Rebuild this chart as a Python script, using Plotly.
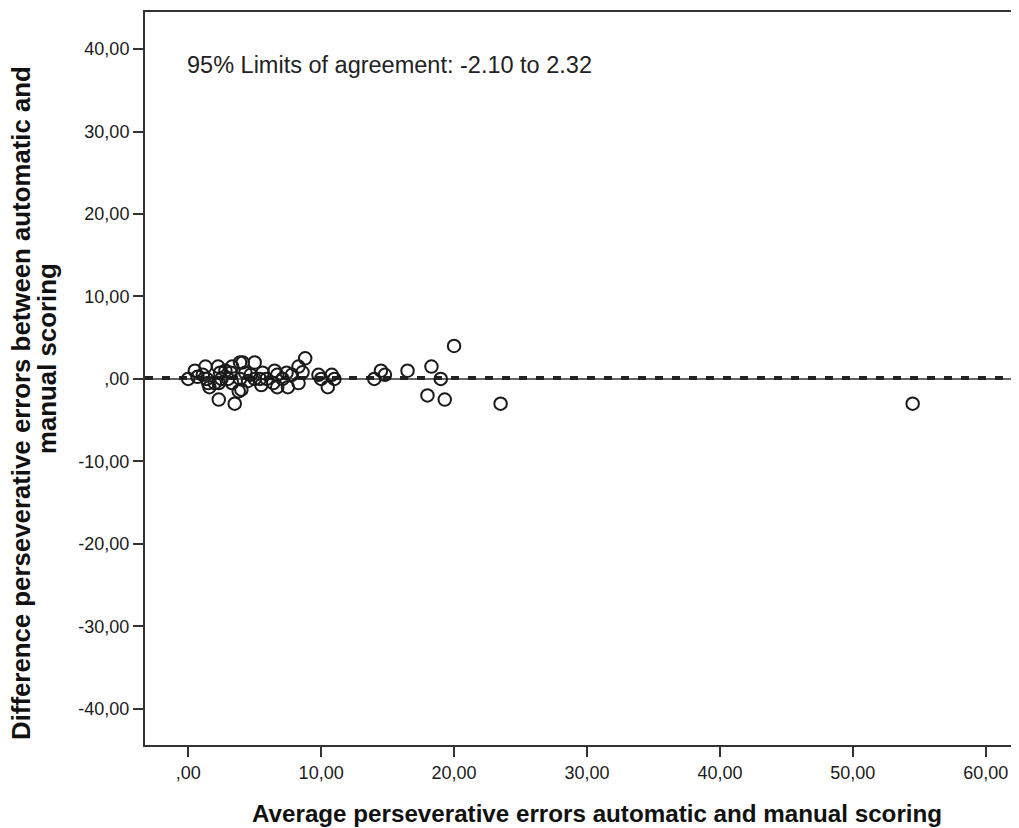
import plotly.graph_objects as go

# Bland-Altman data: average (x) vs difference (y)
avg_scores = [0.0, 0.5, 0.7, 1.1, 1.3, 1.4, 1.5, 1.6, 2.0, 2.25, 2.4, 2.5, 2.3, 2.3,
              2.8, 3.0, 3.2, 3.3, 3.3, 3.5, 3.8, 3.9, 4.1, 3.9, 4.3, 4.5, 4.0, 4.7,
              5.0, 5.0, 5.4, 5.6, 5.5, 5.9, 6.5, 6.7, 6.4, 6.7, 7.1, 7.4, 7.5, 7.8,
              8.3, 8.3, 8.6, 8.8, 9.8, 10.0, 10.5, 10.8, 11.0, 14.0, 14.5, 14.8,
              16.5, 18.0, 18.3, 19.0, 19.3, 20.0, 23.5, 54.5]
diff_scores = [0.0, 1.0, 0.25, 0.5, 1.5, 0.0, -0.5, -1.0, -0.5, 1.5, 0.75, 0.0, -0.5, -2.5,
               1.0, 0.0, 0.75, 1.5, -0.5, -3.0, -1.5, 2.0, 2.0, 0.0, 0.75, -0.25, -1.3, 0.5,
               2.0, 0.0, 0.0, 0.75, -0.75, 0.0, 1.0, 0.5, -0.5, -1.0, 0.0, 0.75, -1.0, 0.5,
               -0.5, 1.5, 0.8, 2.5, 0.5, 0.0, -1.0, 0.5, 0.0, 0.0, 1.0, 0.5,
               1.0, -2.0, 1.5, 0.0, -2.5, 4.0, -3.0, -3.0]
mean_diff = 0.11
zero_ref = 0.0
x_ticks = [0, 10, 20, 30, 40, 50, 60]
x_tick_labels = [",00", "10,00", "20,00", "30,00", "40,00", "50,00", "60,00"]
y_ticks = [-40, -30, -20, -10, 0, 10, 20, 30, 40]
y_tick_labels = ["-40,00", "-30,00", "-20,00", "-10,00", ",00", "10,00", "20,00", "30,00", "40,00"]
loa_text = "95% Limits of agreement: -2.10 to 2.32"
x_title = "Average perseverative errors automatic and manual scoring"
y_title_line1 = "Difference perseverative errors between automatic and"
y_title_line2 = "manual scoring"

font_family = "Liberation Sans, Arial, sans-serif"

fig = go.Figure()
fig.add_trace(go.Scatter(
    x=avg_scores, y=diff_scores, mode="markers",
    marker=dict(symbol="circle-open", size=12.5, color="#1a1a1a", line=dict(width=2, color="#1a1a1a")),
    showlegend=False, hoverinfo="x+y",
))

fig.add_shape(type="line", xref="paper", x0=0, x1=1, yref="y", y0=zero_ref, y1=zero_ref,
              line=dict(color="#333333", width=1.5), layer="below")
fig.add_shape(type="line", xref="paper", x0=0, x1=1, yref="y", y0=mean_diff, y1=mean_diff,
              line=dict(color="#222222", width=4, dash="8px,9px"), layer="below")

fig.add_annotation(xref="paper", yref="paper", x=0.046, y=0.9277, xanchor="left", yanchor="middle",
                   text=loa_text, showarrow=False,
                   font=dict(family=font_family, size=23.5, color="#222222"))

# axis titles
fig.add_annotation(xref="paper", yref="paper", x=0.517, y=-0.0935, xanchor="center", yanchor="middle",
                   text="<b>" + x_title + "</b>", showarrow=False,
                   font=dict(family=font_family, size=24.2, color="#111111"))
fig.add_annotation(xref="paper", yref="paper", x=0, y=0.4666, xshift=-124, xanchor="center", yanchor="middle",
                   text="<b>" + y_title_line1 + "</b>", showarrow=False, textangle=-90,
                   font=dict(family=font_family, size=25.8, color="#111111"))
fig.add_annotation(xref="paper", yref="paper", x=0, y=0.5266, xshift=-98, xanchor="center", yanchor="middle",
                   text="<b>" + y_title_line2 + "</b>", showarrow=False, textangle=-90,
                   font=dict(family=font_family, size=25.8, color="#111111"))

fig.update_layout(
    width=1011, height=820,
    margin=dict(l=137, r=0, t=4, b=83),
    paper_bgcolor="white", plot_bgcolor="white",
    font=dict(family=font_family, color="#1a1a1a"),
    xaxis=dict(
        range=[-3.25, 62.5], tickvals=x_ticks, ticktext=x_tick_labels,
        showgrid=False, zeroline=False, showline=True, mirror=True,
        linecolor="#333333", linewidth=2, ticks="outside", ticklen=10, tickwidth=2,
        tickcolor="#333333", tickfont=dict(size=18, family=font_family, color="#1a1a1a"),
    ),
    yaxis=dict(
        range=[-44.4, 44.5], tickvals=y_ticks, ticktext=y_tick_labels,
        showgrid=False, zeroline=False, showline=True, mirror=False,
        linecolor="#333333", linewidth=2, ticks="outside", ticklen=10, tickwidth=2,
        tickcolor="#333333", tickfont=dict(size=18, family=font_family, color="#1a1a1a"),
    ),
)

fig.write_html("out.html")
